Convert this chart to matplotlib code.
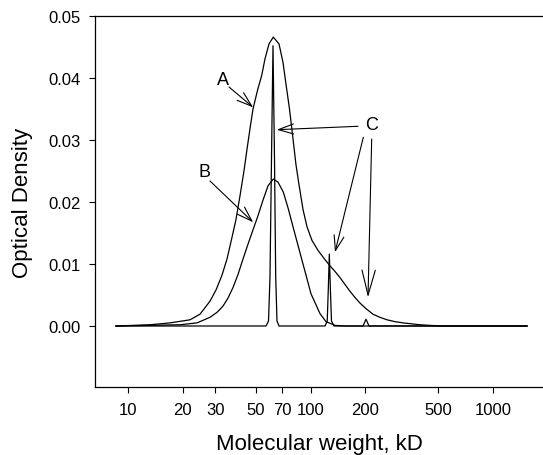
#!/usr/bin/env python3
# -*- coding: UTF-8 -*-

"""
    optical density vs molecular weight, curves A, B and C
"""

import matplotlib
matplotlib.use('Agg')
import matplotlib.pyplot as plt

plt.rcParams['font.family'] = ['Liberation Sans', 'DejaVu Sans']

# curve A (kD, optical density)
mw_a = [8.59, 13.2, 16.99, 21.87, 24.8, 28.13, 30.35, 32.74, 34.87, 37.14,
        39.07, 41.09, 43.2, 44.88, 46.6, 48.41, 51.23, 54.02, 56.33, 59.25,
        62.54, 67.21, 70.69, 73.41, 76.72, 80.18, 83.27, 86.49, 90.97, 95.69,
        101.9, 109.9, 120.1, 127.9, 136.2, 145.1, 154.5, 164.6, 175.3, 186.7,
        201.4, 220.0, 240.3, 262.6, 290.4, 321.3, 398.1, 512.4, 1536]
od_a = [0.0, 0.0002, 0.0005, 0.0010, 0.0019, 0.0040, 0.0058, 0.0082, 0.0108,
        0.0143, 0.0172, 0.0210, 0.0250, 0.0285, 0.0318, 0.0350, 0.0380,
        0.0404, 0.0431, 0.0455, 0.0466, 0.0455, 0.0425, 0.0390, 0.0350,
        0.0302, 0.0260, 0.0228, 0.0188, 0.0160, 0.0138, 0.0122, 0.0107,
        0.0097, 0.0088, 0.0078, 0.0067, 0.0056, 0.0046, 0.0037, 0.0028,
        0.0019, 0.0014, 0.0010, 0.0007, 0.0005, 0.0002, 0.0, 0.0]

# curve B
mw_b = [8.59, 13.2, 19.27, 23.88, 28.13, 30.74, 33.15, 35.31, 37.61, 40.06,
        42.67, 45.45, 48.41, 51.56, 54.92, 58.49, 62.54, 66.37, 70.96, 75.57,
        79.88, 85.42, 93.3, 100.6, 112.7, 121.6, 136.2, 154.5, 1536]
od_b = [0.0, 0.0001, 0.0002, 0.0005, 0.0014, 0.0022, 0.0032, 0.0045, 0.0062,
        0.0083, 0.0108, 0.0132, 0.0155, 0.0178, 0.0203, 0.0226, 0.0237,
        0.0232, 0.0216, 0.0189, 0.0162, 0.0130, 0.0088, 0.0052, 0.0020,
        0.0007, 0.0001, 0.0, 0.0]

# curve C, narrow peaks
mw_c = [8.59, 57.05, 58.88, 59.99, 61.13, 62.3, 63.49, 64.46, 65.52, 67.21,
        120.1, 123.5, 125.2, 126.8, 128.5, 130.3, 134.5, 194.0, 201.4, 209.2,
        1536]
od_c = [0.0, 0.0, 0.0008, 0.0080, 0.0270, 0.0452, 0.0270, 0.0080, 0.0008,
        0.0, 0.0, 0.0008, 0.0060, 0.0116, 0.0060, 0.0008, 0.0, 0.0, 0.0011,
        0.0, 0.0]

x_ticks = [10, 20, 30, 50, 70, 100, 200, 500, 1000]
y_ticks = [0.0, 0.01, 0.02, 0.03, 0.04, 0.05]

fig = plt.figure(figsize=(5.43, 4.56), dpi=100)
ax = fig.add_axes([95 / 543, 1 - 388 / 456, 448 / 543, 371 / 456])

for mw, od in ((mw_a, od_a), (mw_b, od_b), (mw_c, od_c)):
    ax.plot(mw, od, color='black', lw=0.9)

ax.set_xscale('log')
ax.set_xlim(6.595, 1879)
ax.set_ylim(-0.00984, 0.05)
ax.set_xticks(x_ticks)
ax.set_xticklabels([str(t) for t in x_ticks])
ax.xaxis.set_minor_locator(matplotlib.ticker.NullLocator())
ax.set_yticks(y_ticks)
ax.set_yticklabels(['{:.2f}'.format(t) for t in y_ticks])
ax.tick_params(labelsize=12, length=4, width=0.8, direction='out')
ax.tick_params(axis='x', pad=7)
ax.tick_params(axis='y', pad=6)
ax.spines['right'].set_visible(False)
for s in ('left', 'top', 'bottom'):
    ax.spines[s].set_linewidth(0.9)

ax.set_xlabel('Molecular weight, kD', fontsize=16, labelpad=11)
ax.set_ylabel('Optical Density', fontsize=16, labelpad=11)

# labels and arrows
arrow = dict(arrowstyle='->,head_length=0.9,head_width=0.3', lw=0.8,
             color='black', shrinkA=0, shrinkB=0, mutation_scale=12)
ax.text(33.15, 0.0398, 'A', fontsize=13, ha='center', va='center')
ax.annotate('', xy=(48.5, 0.03527), xytext=(35.76, 0.03855), arrowprops=arrow)
ax.text(26.42, 0.02484, 'B', fontsize=13, ha='center', va='center')
ax.annotate('', xy=(48.5, 0.01673), xytext=(28.13, 0.02339), arrowprops=arrow)
ax.text(217.3, 0.03258, 'C', fontsize=13, ha='center', va='center')
ax.annotate('', xy=(65.3, 0.03166), xytext=(182.1, 0.03221), arrowprops=arrow)
ax.annotate('', xy=(136.2, 0.01189), xytext=(194.7, 0.03044), arrowprops=arrow)
arrow_long = dict(arrow, arrowstyle='->,head_length=1.5,head_width=0.4')
ax.annotate('', xy=(206.6, 0.00463), xytext=(216.4, 0.03016),
            arrowprops=arrow_long)

fig.savefig('out.png', dpi=100)
